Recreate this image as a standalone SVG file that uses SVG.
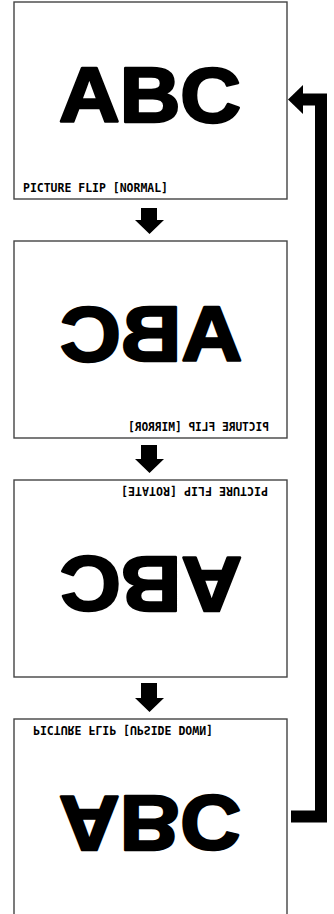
<svg xmlns="http://www.w3.org/2000/svg" width="334" height="914" viewBox="0 0 334 914">
<style>
.box{fill:#fff;stroke:#444;stroke-width:1.4}
.abc{font-family:"Liberation Sans",Arial,sans-serif;font-weight:bold;font-size:78px;fill:#000;stroke:#000;stroke-width:2.6;stroke-linejoin:round}
.lbl{font-family:"DejaVu Sans Mono","Liberation Mono",monospace;font-weight:bold;font-size:12px;fill:#000}
.arr{fill:#000}
.ret{fill:none;stroke:#000;stroke-width:12;stroke-linejoin:miter}
</style>
<rect width="334" height="914" fill="#fff"/>
<g id="normal">
<rect class="box" x="14" y="2" width="273" height="197"/>
<text class="abc" x="59" y="122" textLength="182" lengthAdjust="spacingAndGlyphs">ABC</text>
<text class="lbl" x="23" y="192" textLength="145" lengthAdjust="spacingAndGlyphs">PICTURE FLIP [NORMAL]</text>
</g>
<g id="mirror">
<rect class="box" x="14" y="241" width="273" height="197"/>
<g transform="translate(301,0) scale(-1,1)">
<text class="abc" x="59" y="361" textLength="182" lengthAdjust="spacingAndGlyphs">ABC</text>
<text class="lbl" x="32" y="431" textLength="141" lengthAdjust="spacingAndGlyphs">PICTURE FLIP [MIRROR]</text>
</g>
</g>
<g id="rotate">
<rect class="box" x="14" y="480" width="273" height="197"/>
<g transform="rotate(180 150.5 578.5)">
<text class="abc" x="59" y="600" textLength="182" lengthAdjust="spacingAndGlyphs">ABC</text>
<text class="lbl" x="33" y="670" textLength="147" lengthAdjust="spacingAndGlyphs">PICTURE FLIP [ROTATE]</text>
</g>
</g>
<g id="upside-down">
<rect class="box" x="14" y="719" width="273" height="197"/>
<g transform="translate(0,1635) scale(1,-1)">
<text class="abc" x="59" y="839" textLength="182" lengthAdjust="spacingAndGlyphs">ABC</text>
<text class="lbl" x="33" y="909" textLength="180" lengthAdjust="spacingAndGlyphs">PICTURE FLIP [UPSIDE DOWN]</text>
</g>
</g>
<g id="connectors">
<polygon class="arr" points="141,208 157,208 157,220 164,220 149.5,234 135,220 141,220"/>
<polygon class="arr" points="141,445 157,445 157,459 164,459 149.5,473 135,459 141,459"/>
<polygon class="arr" points="141,683 157,683 157,698 164,698 149.5,712 135,698 141,698"/>
<path class="ret" d="M291,816.5 H321 V99.5 H300"/>
<polygon class="arr" points="288,99.5 303,85 303,114"/>
</g>
</svg>
